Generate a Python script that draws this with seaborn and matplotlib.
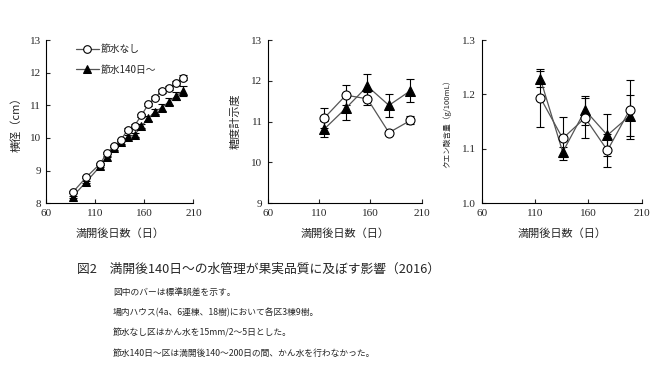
import numpy as np
import pandas as pd
import seaborn as sns
import matplotlib.pyplot as plt

# 横径
days_d = [87, 101, 115, 122, 129, 136, 143, 150, 157, 164, 171, 178, 185, 192, 199]
diam_ctrl = [8.33, 8.80, 9.21, 9.54, 9.74, 9.93, 10.25, 10.38, 10.69, 11.03, 11.24, 11.44, 11.52, 11.69, 11.85]
diam_ctrl_se = [0.03, 0.03, 0.03, 0.03, 0.03, 0.03, 0.04, 0.04, 0.05, 0.05, 0.05, 0.06, 0.06, 0.07, 0.07]
diam_save = [8.20, 8.66, 9.13, 9.43, 9.68, 9.86, 10.03, 10.09, 10.36, 10.60, 10.81, 10.93, 11.11, 11.28, 11.44]
diam_save_se = [0.03, 0.03, 0.03, 0.03, 0.04, 0.04, 0.05, 0.06, 0.07, 0.08, 0.09, 0.10, 0.11, 0.12, 0.14]

# 糖度・クエン酸
days_q = [115, 136, 157, 178, 199]
brix_ctrl = [11.09, 11.65, 11.56, 10.73, 11.03]
brix_ctrl_se = [0.25, 0.24, 0.16, 0.05, 0.10]
brix_save = [10.82, 11.33, 11.87, 11.40, 11.76]
brix_save_se = [0.20, 0.29, 0.31, 0.28, 0.28]
acid_ctrl = [1.194, 1.119, 1.157, 1.097, 1.172]
acid_ctrl_se = [0.053, 0.040, 0.037, 0.031, 0.054]
acid_save = [1.229, 1.094, 1.171, 1.125, 1.161]
acid_save_se = [0.015, 0.010, 0.027, 0.039, 0.038]

labels = ['節水なし', '節水140日～']

sns.set_style('ticks')
plt.rcParams['font.family'] = ['Noto Sans CJK JP', 'DejaVu Sans']
plt.rcParams['xtick.direction'] = 'in'
plt.rcParams['ytick.direction'] = 'in'

fig = plt.figure(figsize=(6.6, 3.72), dpi=100)
ax1 = fig.add_axes([0.070, 0.454, 0.223, 0.438])
ax2 = fig.add_axes([0.406, 0.454, 0.233, 0.438])
ax3 = fig.add_axes([0.730, 0.454, 0.242, 0.438])


def draw(ax, x, yc, ec, ys, es, ms):
    for y, e in [(yc, ec), (ys, es)]:
        ax.errorbar(x, y, yerr=e, fmt='none', ecolor='black', elinewidth=0.8,
                    capsize=3, capthick=0.8, zorder=2)
    d1 = pd.DataFrame({'x': x, 'y': yc})
    d2 = pd.DataFrame({'x': x, 'y': ys})
    sns.lineplot(data=d2, x='x', y='y', ax=ax, color='#555555', lw=0.9,
                 marker='^', markersize=ms, markerfacecolor='black',
                 markeredgecolor='black', label=labels[1], zorder=3)
    sns.lineplot(data=d1, x='x', y='y', ax=ax, color='#555555', lw=0.9,
                 marker='o', markersize=ms, markerfacecolor='white',
                 markeredgecolor='black', markeredgewidth=0.8,
                 label=labels[0], zorder=4)


draw(ax1, days_d, diam_ctrl, diam_ctrl_se, diam_save, diam_save_se, 5.5)
draw(ax2, days_q, brix_ctrl, brix_ctrl_se, brix_save, brix_save_se, 6.5)
draw(ax3, days_q, acid_ctrl, acid_ctrl_se, acid_save, acid_save_se, 6.5)

for ax in (ax1, ax2, ax3):
    ax.set_xlim(60, 210)
    ax.set_xticks([60, 110, 160, 210])
    ax.set_xlabel('満開後日数（日）', fontsize=8, labelpad=8)
    ax.tick_params(length=3, width=0.8, labelsize=8, pad=4)
    for lab in ax.get_xticklabels() + ax.get_yticklabels():
        lab.set_family('Liberation Serif')
    for s in ('left', 'bottom'):
        ax.spines[s].set_linewidth(0.8)
        ax.spines[s].set_color('black')
    sns.despine(ax=ax)
    if ax is not ax1:
        ax.get_legend().remove()

ax1.set_ylim(8, 13)
ax1.set_yticks(range(8, 14))
ax1.set_ylabel('横径（cm）', fontsize=8, labelpad=6)
ax2.set_ylim(9, 13)
ax2.set_yticks(range(9, 14))
ax2.set_ylabel('糖度計示度', fontsize=8, labelpad=8)
ax3.set_ylim(1.0, 1.3)
ax3.set_yticks([1.0, 1.1, 1.2, 1.3])
ax3.set_yticklabels(['1.0', '1.1', '1.2', '1.3'], family='Liberation Serif', fontsize=8)
ax3.set_ylabel('クエン酸含量（g/100mL）', fontsize=5.5, labelpad=8)

h, l = ax1.get_legend_handles_labels()
order = [l.index(labels[0]), l.index(labels[1])]
ax1.legend([h[i] for i in order], [l[i] for i in order], loc='upper left',
           bbox_to_anchor=(0.14, 1.03), frameon=False, fontsize=7,
           handlelength=2.4, labelspacing=1.1, handletextpad=0.2)

fig.text(77 / 660, 1 - 269 / 372, '図2　満開後140日～の水管理が果実品質に及ぼす影響（2016）',
         fontsize=9.2, va='center', ha='left')
notes = ['図中のバーは標準誤差を示す。',
         '場内ハウス(4a、6連棟、18樹)において各区3棟9樹。',
         '節水なし区はかん水を15mm/2～5日とした。',
         '節水140日～区は満開後140～200日の間、かん水を行わなかった。']
for i, t in enumerate(notes):
    fig.text(113 / 660, 1 - (292 + 20.5 * i) / 372, t, fontsize=6.3,
             va='center', ha='left')

fig.savefig('out.png', dpi=100, facecolor='white')
